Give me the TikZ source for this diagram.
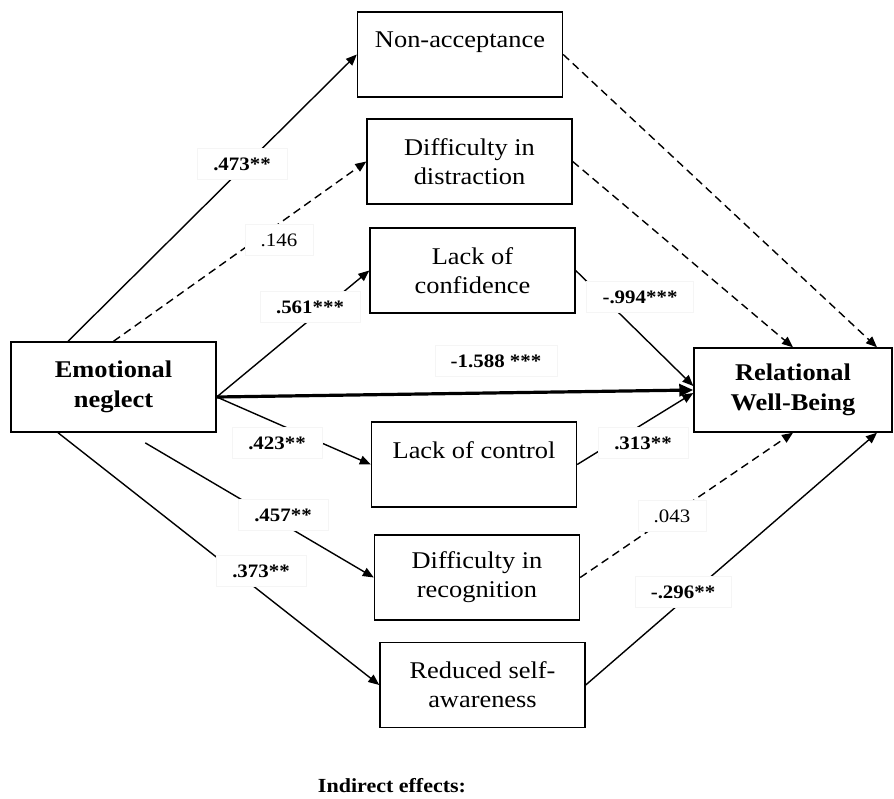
\documentclass[tikz,border=0pt]{standalone}
\usepackage{fontspec}
\setmainfont{Liberation Serif}[FakeStretch=1.1]
\usetikzlibrary{arrows.meta,calc}

\begin{document}
\begin{tikzpicture}[x=1pt,y=-1pt,
  box/.style={draw, line width=1.4pt, minimum width=205pt, minimum height=85pt,
    inner sep=0pt, align=center, font=\fontsize{24}{29}\selectfont},
  keybox/.style={box, font=\fontsize{24}{30}\selectfont\bfseries},
  link/.style={line width=1.4pt, -{Triangle[length=11pt,width=9pt]}},
  dashlink/.style={link, dash pattern=on 8pt off 5pt},
  thicklink/.style={line width=3.2pt, -{Triangle[length=14pt,width=12pt]}},
  lab/.style={fill=white, draw=black!4, inner xsep=16pt, inner ysep=9pt,
    font=\fontsize{19}{22}\selectfont\bfseries},
  labn/.style={lab, font=\fontsize{19}{22}\selectfont}
]
\useasboundingbox (0,0) rectangle (894,798);

% predictor and outcome
\node[keybox, minimum height=90pt] (EN) at (113.5,387) {Emotional\\neglect};
\node[keybox, minimum width=198pt, minimum height=84pt] (RW) at (793,390) {Relational\\Well-Being};

% mediators
\node[box] (NA)  at (460,54.5)  {Non-acceptance\\\mbox{}};
\node[box] (DD)  at (469.5,161.5) {Difficulty in\\distraction};
\node[box] (LCf) at (472.5,270.5) {Lack of\\confidence};
\node[box] (LCt) at (474,464.5) {Lack of control\\\mbox{}};
\node[box] (DR)  at (477,577.5) {Difficulty in\\recognition};
\node[box] (RSA) at (482.5,685) {Reduced self-\\awareness};

% paths from emotional neglect
\draw[link] ([xshift=-45.5pt]EN.north) -- (NA.west);
\draw[dashlink] (EN.north) -- (DD.west);
\draw[link] ([yshift=-10pt]EN.east) -- (LCf.west);
\draw[thicklink] ([yshift=-10pt]EN.east) -- (RW.west);
\draw[link] ([yshift=-10pt]EN.east) -- (LCt.west);
\draw[link, shorten <=20pt] ([xshift=14.5pt]EN.south) -- (DR.west);
\draw[link] ([xshift=-55.5pt]EN.south) -- (RSA.west);

% paths into relational well-being
\draw[dashlink] (NA.east) -- ([xshift=84pt]RW.north);
\draw[dashlink] (DD.east) -- (RW.north);
\draw[link] (LCf.east) -- ([yshift=4pt]RW.west);
\draw[link] (LCt.east) -- ([yshift=-3pt]RW.west);
\draw[dashlink] (DR.east) -- (RW.south);
\draw[link] (RSA.east) -- ([xshift=84pt]RW.south);

% coefficients
\node[lab]  (c1)  at (242,164) {.473**};
\node[labn] (c2)  at (279,240) {.146};
\node[lab]  (c3)  at (310,307) {.561***};
\node[lab]  (c4)  at (640,297) {-.994***};
\node[lab]  (c5)  at (496,361) {-1.588 ***};
\node[lab]  (c6)  at (277,443) {.423**};
\node[lab]  (c7)  at (643,443) {.313**};
\node[lab]  (c8)  at (283,515) {.457**};
\node[labn] (c9)  at (672,516) {.043};
\node[lab]  (c10) at (261,571) {.373**};
\node[lab]  (c11) at (683,592) {-.296**};

\node[anchor=base, font=\fontsize{20}{24}\selectfont\bfseries] (ind) at (392,792) {Indirect effects:};
\end{tikzpicture}
\end{document}
